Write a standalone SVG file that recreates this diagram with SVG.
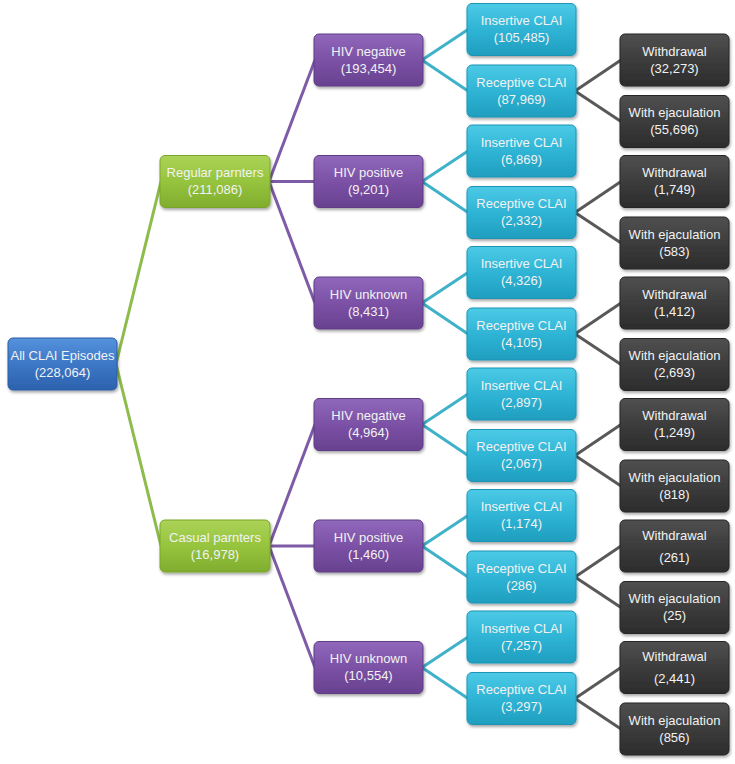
<svg xmlns="http://www.w3.org/2000/svg" width="735" height="764" viewBox="0 0 735 764">
<defs>
<linearGradient id="gBlue" x1="0" y1="0" x2="0" y2="1"><stop offset="0" stop-color="#5592dc"/><stop offset="0.5" stop-color="#3c77c6"/><stop offset="1" stop-color="#2c62ae"/></linearGradient>
<linearGradient id="gGreen" x1="0" y1="0" x2="0" y2="1"><stop offset="0" stop-color="#abd357"/><stop offset="0.5" stop-color="#96c43e"/><stop offset="1" stop-color="#80ad2e"/></linearGradient>
<linearGradient id="gPurple" x1="0" y1="0" x2="0" y2="1"><stop offset="0" stop-color="#9068bb"/><stop offset="0.5" stop-color="#7b51a6"/><stop offset="1" stop-color="#68418f"/></linearGradient>
<linearGradient id="gCyan" x1="0" y1="0" x2="0" y2="1"><stop offset="0" stop-color="#4ccae6"/><stop offset="0.5" stop-color="#2fb4d5"/><stop offset="1" stop-color="#1f9ebf"/></linearGradient>
<linearGradient id="gDark" x1="0" y1="0" x2="0" y2="1"><stop offset="0" stop-color="#505050"/><stop offset="0.5" stop-color="#3c3c3c"/><stop offset="1" stop-color="#2c2c2c"/></linearGradient>
<filter id="sh" x="-10%" y="-10%" width="125%" height="135%"><feDropShadow dx="1" dy="2" stdDeviation="1.5" flood-color="#000" flood-opacity="0.35"/></filter>
</defs>
<style>
.box rect{filter:url(#sh);stroke-width:1}
.blue rect{fill:url(#gBlue);stroke:#2a5ea6}
.green rect{fill:url(#gGreen);stroke:#7aa52c}
.purple rect{fill:url(#gPurple);stroke:#5f3c85}
.cyan rect{fill:url(#gCyan);stroke:#1d95b5}
.dark rect{fill:url(#gDark);stroke:#262626}
text{font-family:"Liberation Sans",Arial,sans-serif;font-size:13px;fill:#f2f2f2;text-anchor:middle}
.c line{stroke-width:3;fill:none}
.lg line{stroke:#8dbb4c}
.lp line{stroke:#7d5ba6}
.lc line{stroke:#3fb1c8}
.ld line{stroke:#595959}
</style>
<rect width="735" height="764" fill="#ffffff"/>
<g id="connectors" class="c">
<g class="lg">
<line x1="116" y1="364" x2="161" y2="181.5"/>
<line x1="116" y1="364" x2="161" y2="546"/>
</g>
<g class="lp">
<line x1="269" y1="181.5" x2="315" y2="60"/>
<line x1="269" y1="181.5" x2="315" y2="181.5"/>
<line x1="269" y1="181.5" x2="315" y2="303"/>
<line x1="269" y1="546" x2="315" y2="424.5"/>
<line x1="269" y1="546" x2="315" y2="546"/>
<line x1="269" y1="546" x2="315" y2="667.5"/>
</g>
<g class="lc">
<line x1="422" y1="60" x2="468" y2="29.5"/><line x1="422" y1="60" x2="468" y2="91"/>
<line x1="422" y1="181.5" x2="468" y2="151"/><line x1="422" y1="181.5" x2="468" y2="212.5"/>
<line x1="422" y1="303" x2="468" y2="272.5"/><line x1="422" y1="303" x2="468" y2="334"/>
<line x1="422" y1="424.5" x2="468" y2="394"/><line x1="422" y1="424.5" x2="468" y2="455.5"/>
<line x1="422" y1="546" x2="468" y2="515.5"/><line x1="422" y1="546" x2="468" y2="577"/>
<line x1="422" y1="667.5" x2="468" y2="637"/><line x1="422" y1="667.5" x2="468" y2="698.5"/>
</g>
<g class="ld">
<line x1="575" y1="91" x2="621" y2="60"/><line x1="575" y1="91" x2="621" y2="121.5"/>
<line x1="575" y1="212.5" x2="621" y2="181.5"/><line x1="575" y1="212.5" x2="621" y2="243"/>
<line x1="575" y1="334" x2="621" y2="303"/><line x1="575" y1="334" x2="621" y2="364.5"/>
<line x1="575" y1="455.5" x2="621" y2="424.5"/><line x1="575" y1="455.5" x2="621" y2="486"/>
<line x1="575" y1="577" x2="621" y2="546"/><line x1="575" y1="577" x2="621" y2="607.5"/>
<line x1="575" y1="698.5" x2="621" y2="667.5"/><line x1="575" y1="698.5" x2="621" y2="729"/>
</g>
</g>

<g id="root" class="box blue" transform="translate(8,338)"><rect width="109" height="52" rx="5"/><text x="54.5" y="21.5">All CLAI Episodes</text><text x="54.5" y="38.5">(228,064)</text></g>
<g id="regular" class="box green" transform="translate(160,155.5)"><rect width="110" height="52" rx="5"/><text x="55" y="21.5">Regular parnters</text><text x="55" y="38.5">(211,086)</text></g>
<g id="casual" class="box green" transform="translate(160,520)"><rect width="110" height="52" rx="5"/><text x="55" y="21.5">Casual parnters</text><text x="55" y="38.5">(16,978)</text></g>

<g id="hiv-neg-r" class="box purple" transform="translate(314,34)"><rect width="109" height="52" rx="5"/><text x="54.5" y="21.5">HIV negative</text><text x="54.5" y="38.5">(193,454)</text></g>
<g id="hiv-pos-r" class="box purple" transform="translate(314,155.5)"><rect width="109" height="52" rx="5"/><text x="54.5" y="21.5">HIV positive</text><text x="54.5" y="38.5">(9,201)</text></g>
<g id="hiv-unk-r" class="box purple" transform="translate(314,277)"><rect width="109" height="52" rx="5"/><text x="54.5" y="21.5">HIV unknown</text><text x="54.5" y="38.5">(8,431)</text></g>
<g id="hiv-neg-c" class="box purple" transform="translate(314,398.5)"><rect width="109" height="52" rx="5"/><text x="54.5" y="21.5">HIV negative</text><text x="54.5" y="38.5">(4,964)</text></g>
<g id="hiv-pos-c" class="box purple" transform="translate(314,520)"><rect width="109" height="52" rx="5"/><text x="54.5" y="21.5">HIV positive</text><text x="54.5" y="38.5">(1,460)</text></g>
<g id="hiv-unk-c" class="box purple" transform="translate(314,641.5)"><rect width="109" height="52" rx="5"/><text x="54.5" y="21.5">HIV unknown</text><text x="54.5" y="38.5">(10,554)</text></g>

<g id="ins-1" class="box cyan" transform="translate(467,3.5)"><rect width="109" height="52" rx="5"/><text x="54.5" y="21.5">Insertive CLAI</text><text x="54.5" y="38.5">(105,485)</text></g>
<g id="rec-1" class="box cyan" transform="translate(467,65)"><rect width="109" height="52" rx="5"/><text x="54.5" y="21.5">Receptive CLAI</text><text x="54.5" y="38.5">(87,969)</text></g>
<g id="ins-2" class="box cyan" transform="translate(467,125)"><rect width="109" height="52" rx="5"/><text x="54.5" y="21.5">Insertive CLAI</text><text x="54.5" y="38.5">(6,869)</text></g>
<g id="rec-2" class="box cyan" transform="translate(467,186.5)"><rect width="109" height="52" rx="5"/><text x="54.5" y="21.5">Receptive CLAI</text><text x="54.5" y="38.5">(2,332)</text></g>
<g id="ins-3" class="box cyan" transform="translate(467,246.5)"><rect width="109" height="52" rx="5"/><text x="54.5" y="21.5">Insertive CLAI</text><text x="54.5" y="38.5">(4,326)</text></g>
<g id="rec-3" class="box cyan" transform="translate(467,308)"><rect width="109" height="52" rx="5"/><text x="54.5" y="21.5">Receptive CLAI</text><text x="54.5" y="38.5">(4,105)</text></g>
<g id="ins-4" class="box cyan" transform="translate(467,368)"><rect width="109" height="52" rx="5"/><text x="54.5" y="21.5">Insertive CLAI</text><text x="54.5" y="38.5">(2,897)</text></g>
<g id="rec-4" class="box cyan" transform="translate(467,429.5)"><rect width="109" height="52" rx="5"/><text x="54.5" y="21.5">Receptive CLAI</text><text x="54.5" y="38.5">(2,067)</text></g>
<g id="ins-5" class="box cyan" transform="translate(467,489.5)"><rect width="109" height="52" rx="5"/><text x="54.5" y="21.5">Insertive CLAI</text><text x="54.5" y="38.5">(1,174)</text></g>
<g id="rec-5" class="box cyan" transform="translate(467,551)"><rect width="109" height="52" rx="5"/><text x="54.5" y="21.5">Receptive CLAI</text><text x="54.5" y="38.5">(286)</text></g>
<g id="ins-6" class="box cyan" transform="translate(467,611)"><rect width="109" height="52" rx="5"/><text x="54.5" y="21.5">Insertive CLAI</text><text x="54.5" y="38.5">(7,257)</text></g>
<g id="rec-6" class="box cyan" transform="translate(467,672.5)"><rect width="109" height="52" rx="5"/><text x="54.5" y="21.5">Receptive CLAI</text><text x="54.5" y="38.5">(3,297)</text></g>

<g id="wd-1" class="box dark" transform="translate(620,34)"><rect width="109" height="52" rx="5"/><text x="54.5" y="21.5">Withdrawal</text><text x="54.5" y="38.5">(32,273)</text></g>
<g id="we-1" class="box dark" transform="translate(620,95.5)"><rect width="109" height="52" rx="5"/><text x="54.5" y="21.5">With ejaculation</text><text x="54.5" y="38.5">(55,696)</text></g>
<g id="wd-2" class="box dark" transform="translate(620,155.5)"><rect width="109" height="52" rx="5"/><text x="54.5" y="21.5">Withdrawal</text><text x="54.5" y="38.5">(1,749)</text></g>
<g id="we-2" class="box dark" transform="translate(620,217)"><rect width="109" height="52" rx="5"/><text x="54.5" y="21.5">With ejaculation</text><text x="54.5" y="38.5">(583)</text></g>
<g id="wd-3" class="box dark" transform="translate(620,277)"><rect width="109" height="52" rx="5"/><text x="54.5" y="21.5">Withdrawal</text><text x="54.5" y="38.5">(1,412)</text></g>
<g id="we-3" class="box dark" transform="translate(620,338.5)"><rect width="109" height="52" rx="5"/><text x="54.5" y="21.5">With ejaculation</text><text x="54.5" y="38.5">(2,693)</text></g>
<g id="wd-4" class="box dark" transform="translate(620,398.5)"><rect width="109" height="52" rx="5"/><text x="54.5" y="21.5">Withdrawal</text><text x="54.5" y="38.5">(1,249)</text></g>
<g id="we-4" class="box dark" transform="translate(620,460)"><rect width="109" height="52" rx="5"/><text x="54.5" y="21.5">With ejaculation</text><text x="54.5" y="38.5">(818)</text></g>
<g id="wd-5" class="box dark" transform="translate(620,520)"><rect width="109" height="52" rx="5"/><text x="54.5" y="19.5">Withdrawal</text><text x="54.5" y="41.5">(261)</text></g>
<g id="we-5" class="box dark" transform="translate(620,581.5)"><rect width="109" height="52" rx="5"/><text x="54.5" y="21.5">With ejaculation</text><text x="54.5" y="38.5">(25)</text></g>
<g id="wd-6" class="box dark" transform="translate(620,641.5)"><rect width="109" height="52" rx="5"/><text x="54.5" y="19.5">Withdrawal</text><text x="54.5" y="41.5">(2,441)</text></g>
<g id="we-6" class="box dark" transform="translate(620,703)"><rect width="109" height="52" rx="5"/><text x="54.5" y="21.5">With ejaculation</text><text x="54.5" y="38.5">(856)</text></g>
</svg>
